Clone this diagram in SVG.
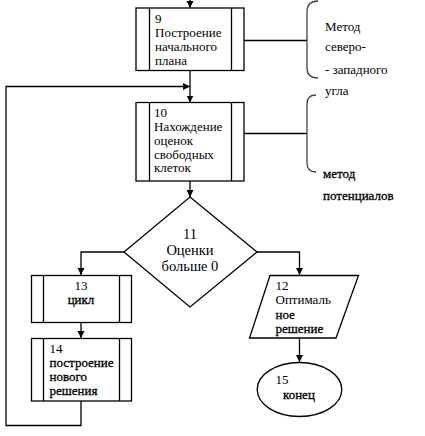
<svg xmlns="http://www.w3.org/2000/svg" width="425" height="436" viewBox="0 0 425 436">
<defs>
<marker id="ah" markerWidth="8" markerHeight="8" refX="7" refY="4" orient="auto" markerUnits="userSpaceOnUse">
<path d="M0,0.5 L7,4 L0,7.5 Z" fill="#000"/>
</marker>
</defs>
<style>
.s{fill:#fff;stroke:#000;stroke-width:1.3}
.l{fill:none;stroke:#000;stroke-width:1.3}
.br{fill:none;stroke:#444;stroke-width:1.3}
text{fill:#000}
.t{font-size:13px}
.d{font-size:14.5px}
.b{font-size:13px;stroke:#000;stroke-width:0.3}
</style>
<rect width="425" height="436" fill="#fff"/>
<g id="connectors">
<line class="l" x1="190" y1="0" x2="190" y2="8" marker-end="url(#ah)"/>
<line class="l" x1="190" y1="71" x2="190" y2="102.5" marker-end="url(#ah)"/>
<polyline class="l" points="81,401 81,425.5 6,425.5 6,86.5 190,86.5" marker-end="url(#ah)"/>
<line class="l" x1="190" y1="181" x2="190" y2="197" marker-end="url(#ah)"/>
<polyline class="l" points="124,252 81,252 81,275" marker-end="url(#ah)"/>
<polyline class="l" points="257,252 299.5,252 299.5,275" marker-end="url(#ah)"/>
<line class="l" x1="81" y1="322.5" x2="81" y2="338" marker-end="url(#ah)"/>
<line class="l" x1="299.5" y1="338" x2="299.5" y2="362" marker-end="url(#ah)"/>
<line class="l" x1="244" y1="40.5" x2="307" y2="40.5"/>
<line class="l" x1="244" y1="133.5" x2="307" y2="133.5"/>
<path class="br" d="M318,1 Q307,1 307,12 L307,68 Q307,78 318,78"/>
<path class="br" d="M316,95 Q307,95 307,104 L307,163 Q307,172 316,172"/>
</g>
<g font-family="'Liberation Serif', 'DejaVu Serif', serif">
<g id="n9">
<rect class="s" x="136" y="8" width="108" height="62.5"/>
<line class="l" x1="149.5" y1="8" x2="149.5" y2="70.5"/>
<line class="l" x1="231.5" y1="8" x2="231.5" y2="70.5"/>
<text class="t" x="155" y="23">9</text>
<text class="t" x="155" y="37">Построение</text>
<text class="t" x="155" y="51">начального</text>
<text class="t" x="155" y="65">плана</text>
</g>
<g id="n10">
<rect class="s" x="136" y="102.5" width="108" height="78.5"/>
<line class="l" x1="149.5" y1="102.5" x2="149.5" y2="181"/>
<line class="l" x1="231.5" y1="102.5" x2="231.5" y2="181"/>
<text class="t" x="154" y="117">10</text>
<text class="t" x="154" y="131">Нахождение</text>
<text class="t" x="154" y="145">оценок</text>
<text class="t" x="154" y="158.5">свободных</text>
<text class="t" x="154" y="172">клеток</text>
</g>
<g id="n11">
<polygon class="s" points="190,197 257,252 190,307 124,252"/>
<text class="d" x="190" y="238.5" text-anchor="middle">11</text>
<text class="d" x="190" y="255" text-anchor="middle">Оценки</text>
<text class="d" x="190" y="271" text-anchor="middle">больше 0</text>
</g>
<g id="n13">
<rect class="s" x="31.5" y="275.5" width="100" height="47"/>
<line class="l" x1="43.5" y1="275.5" x2="43.5" y2="322.5"/>
<line class="l" x1="119.5" y1="275.5" x2="119.5" y2="322.5"/>
<text class="t" x="81" y="290" text-anchor="middle">13</text>
<text class="b" x="81" y="303.5" text-anchor="middle">цикл</text>
</g>
<g id="n14">
<rect class="s" x="31.5" y="338.5" width="100" height="62.5"/>
<line class="l" x1="43.5" y1="338.5" x2="43.5" y2="401"/>
<line class="l" x1="119.5" y1="338.5" x2="119.5" y2="401"/>
<text class="t" x="49.5" y="352.5">14</text>
<text class="b" x="49.5" y="367">построение</text>
<text class="b" x="49.5" y="381">нового</text>
<text class="b" x="49.5" y="395">решения</text>
</g>
<g id="n12">
<polygon class="s" points="270,275.5 358.5,275.5 336,338 249.5,338"/>
<text class="t" x="275.5" y="290">12</text>
<text class="t" x="275.5" y="303.5">Оптималь</text>
<text class="b" x="275.5" y="318.5">ное</text>
<text class="b" x="275.5" y="332.5">решение</text>
</g>
<g id="n15">
<ellipse class="s" cx="299.5" cy="389.5" rx="42.3" ry="27"/>
<text class="t" x="275.5" y="384">15</text>
<text class="b" x="283" y="398.5">конец</text>
</g>
<g id="notes">
<text class="t" x="325" y="30.5">Метод</text>
<text class="t" x="325" y="51">северо-</text>
<text class="t" x="325" y="74">- западного</text>
<text class="t" x="325" y="94.5">угла</text>
<text class="b" x="323" y="178">метод</text>
<text class="b" x="323" y="200">потенциалов</text>
</g>
</g>
</svg>
